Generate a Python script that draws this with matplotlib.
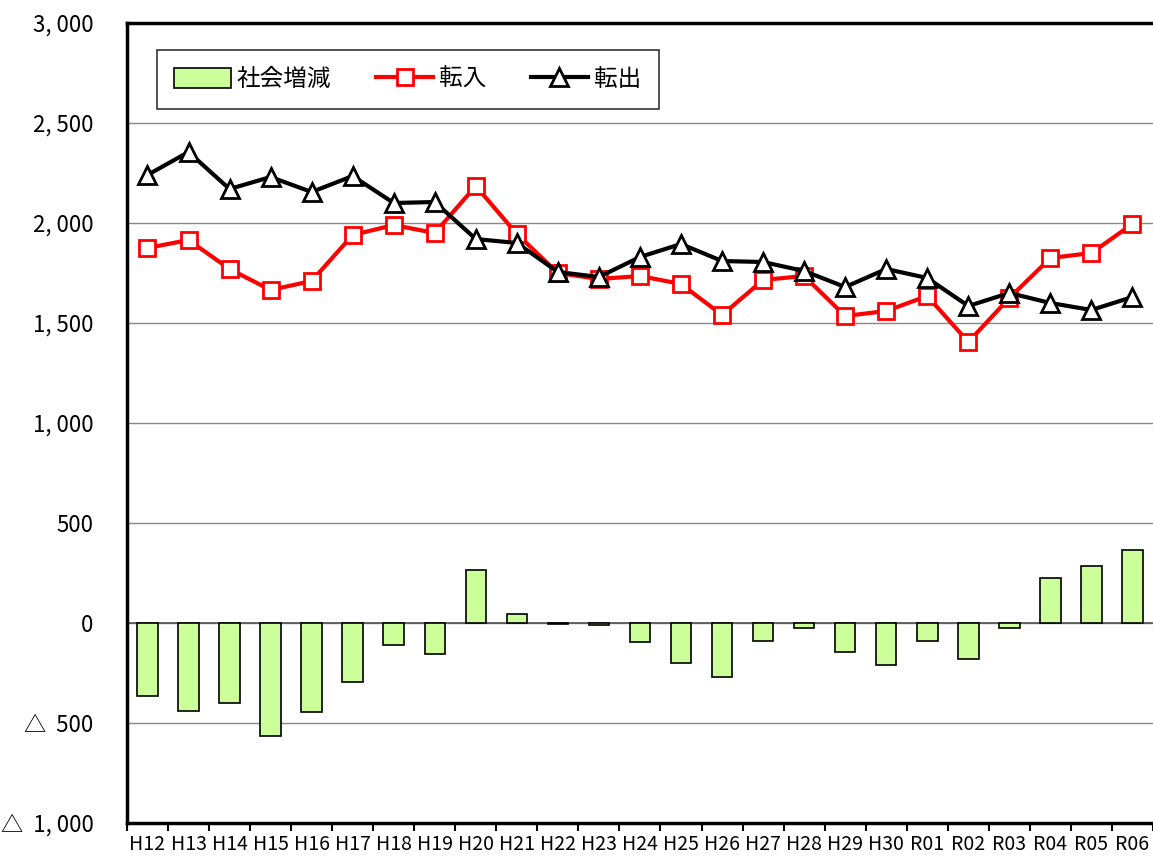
import matplotlib.pyplot as plt
import numpy as np

plt.rcParams['font.family'] = ['Liberation Sans Narrow', 'Noto Sans CJK JP', 'DejaVu Sans']

years = ["H12", "H13", "H14", "H15", "H16", "H17", "H18", "H19", "H20", "H21",
         "H22", "H23", "H24", "H25", "H26", "H27", "H28", "H29", "H30",
         "R01", "R02", "R03", "R04", "R05", "R06"]
tennyu = [1875, 1915, 1770, 1665, 1710, 1940, 1990, 1950, 2185, 1945,
          1750, 1720, 1735, 1695, 1540, 1715, 1735, 1535, 1560,
          1635, 1405, 1625, 1825, 1850, 1995]
tenshutsu = [2240, 2355, 2170, 2230, 2155, 2235, 2100, 2105, 1920, 1900,
             1755, 1730, 1830, 1895, 1810, 1805, 1760, 1680, 1770,
             1725, 1585, 1650, 1600, 1565, 1630]
shakai = [-365, -440, -400, -565, -445, -295, -110, -155, 265, 45,
          -5, -10, -95, -200, -270, -90, -25, -145, -210,
          -90, -180, -25, 225, 285, 365]
yticks = [3000, 2500, 2000, 1500, 1000, 500, 0, -500, -1000]
ylabels = ["3, 000", "2, 500", "2, 000", "1, 500", "1, 000", "500", "0", "△  500", "△  1, 000"]

fig = plt.figure(figsize=(11.53, 8.56), dpi=100)
ax = fig.add_axes([0.1101, 0.0386, 0.8899, 0.9345])

x = np.arange(len(years))
bars = ax.bar(x, shakai, width=0.5, color="#CCFF99", edgecolor="black", linewidth=1.2,
              label="社会増減", zorder=3)
l1, = ax.plot(x, tennyu, color="#FF0000", lw=3, marker="s", ms=12, mfc="white",
              mec="#FF0000", mew=2, label="転入", zorder=4)
l2, = ax.plot(x, tenshutsu, color="black", lw=3, marker="^", ms=13, mfc="white",
              mec="black", mew=2, label="転出", zorder=5)

ax.set_xlim(-0.5, len(years) - 0.5)
ax.set_ylim(-1000, 3000)
ax.set_yticks(yticks)
ax.set_yticklabels(ylabels, fontsize=16)
ax.tick_params(axis="y", length=0, pad=24)
ax.set_xticks(x)
ax.set_xticklabels(years, fontsize=14)
ax.tick_params(axis="x", length=0, pad=8)
ax.set_xticks(np.arange(-0.5, len(years), 1), minor=True)
ax.tick_params(axis="x", which="minor", length=6, width=1.5, direction="out")

ax.grid(axis="y", color="#888888", lw=1, zorder=0)
ax.axhline(0, color="#555555", lw=1.2, zorder=2)
for s in ["left", "bottom", "top"]:
    ax.spines[s].set_linewidth(2.5)
ax.spines["right"].set_visible(False)

leg = ax.legend([bars, l1, l2], ["社会増減", "転入", "転出"],
                loc="upper left", bbox_to_anchor=(0.029, 0.966), borderaxespad=0,
                ncol=3, fontsize=17, frameon=True, fancybox=False, edgecolor="black",
                handlelength=2.4, handleheight=0.9, columnspacing=1.9,
                borderpad=0.75, handletextpad=0.25)
leg.get_frame().set_linewidth(1.2)

plt.savefig("out.png", dpi=100)
